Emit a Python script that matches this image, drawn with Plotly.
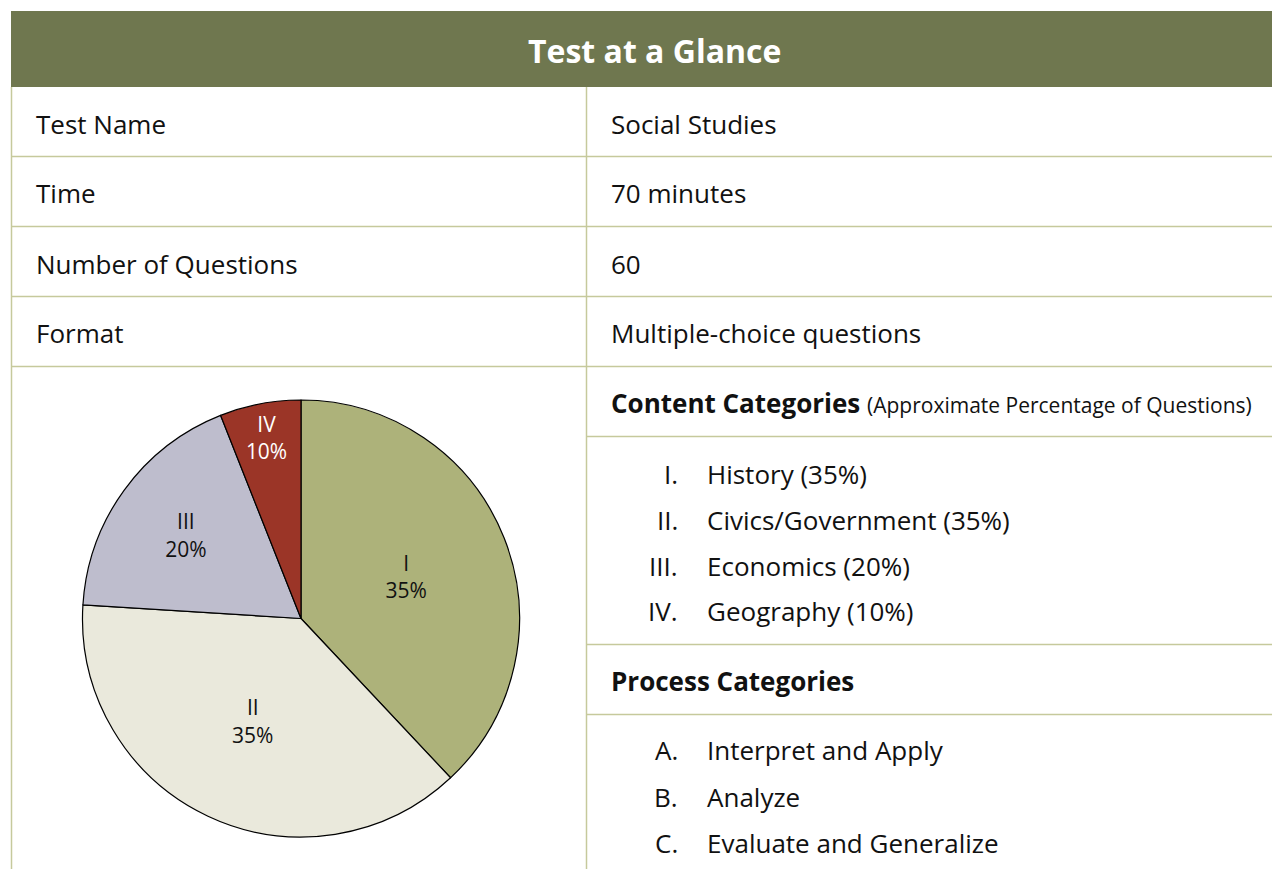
import plotly.graph_objects as go

# ---------------- data ----------------
title = "Test at a Glance"
info_labels = ["Test Name", "Time", "Number of Questions", "Format"]
info_values = ["Social Studies", "70 minutes", "60", "Multiple-choice questions"]

slice_ids = ["I", "II", "III", "IV"]
slice_values = [38, 38, 18, 6]          # drawn slice sizes
slice_labels = ["35%", "35%", "20%", "10%"]
slice_colors = ["#adb27a", "#eae9dc", "#bebdcd", "#9b3527"]
slice_text_colors = ["#111111", "#111111", "#111111", "#ffffff"]

content_numerals = ["I.", "II.", "III.", "IV."]
content_items = ["History (35%)", "Civics/Government (35%)", "Economics (20%)", "Geography (10%)"]
process_letters = ["A.", "B.", "C."]
process_items = ["Interpret and Apply", "Analyze", "Evaluate and Generalize"]

# ---------------- layout constants ----------------
W, H = 1272, 869
FONT = "Open Sans"
LINE = "#c6c99c"
HEAD = "#6f774f"
TXT = "#111111"
BODY = 26

fig = go.Figure()

fig.add_trace(go.Pie(
    values=slice_values,
    text=[f"{i}<br>{p}" for i, p in zip(slice_ids, slice_labels)],
    textinfo="text",
    textposition="inside",
    insidetextorientation="horizontal",
    sort=False,
    direction="clockwise",
    rotation=0,
    marker=dict(colors=slice_colors, line=dict(color="#000000", width=1.2)),
    textfont=dict(family=FONT, size=21, color=slice_text_colors),
    domain=dict(x=[82 / W, 520 / W], y=[1 - 837 / H, 1 - 400 / H]),
    showlegend=False,
    hoverinfo="skip",
))

shapes = []
shapes.append(dict(type="rect", x0=11, x1=W + 20, y0=11, y1=87, fillcolor=HEAD, line=dict(width=0), layer="below"))
shapes.append(dict(type="line", x0=11.5, x1=11.5, y0=87, y1=H + 20, line=dict(color=LINE, width=1.5)))
shapes.append(dict(type="line", x0=586.5, x1=586.5, y0=87, y1=H + 20, line=dict(color=LINE, width=1.5)))
for yy in [156.5, 226.5, 296.5, 366.5]:
    shapes.append(dict(type="line", x0=11, x1=W + 20, y0=yy, y1=yy, line=dict(color=LINE, width=1.5)))
for yy in [436.5, 644.5, 714.5]:
    shapes.append(dict(type="line", x0=586, x1=W + 20, y0=yy, y1=yy, line=dict(color=LINE, width=1.5)))

LX, RX, NX, IX = 34, 609, 680, 705

ann = []
ann.append(dict(x=654, y=50, text=f"<b>{title}</b>", showarrow=False, xanchor="center", yanchor="middle",
                font=dict(family=FONT, size=32, color="#ffffff")))
row_y = [124, 193, 264, 333]
for yy, lab, val in zip(row_y, info_labels, info_values):
    ann.append(dict(x=LX, y=yy, text=lab, showarrow=False, xanchor="left", yanchor="middle",
                    font=dict(family=FONT, size=BODY, color=TXT)))
    ann.append(dict(x=RX, y=yy, text=val, showarrow=False, xanchor="left", yanchor="middle",
                    font=dict(family=FONT, size=BODY, color=TXT)))

ann.append(dict(x=RX, y=403, text="<b>Content Categories</b> <span style='font-size:21px'>(Approximate Percentage of Questions)</span>",
                showarrow=False, xanchor="left", yanchor="middle", font=dict(family=FONT, size=26, color=TXT)))
for yy, num, item in zip([474, 520, 566, 611], content_numerals, content_items):
    ann.append(dict(x=NX, y=yy, text=num, showarrow=False, xanchor="right", yanchor="middle",
                    font=dict(family=FONT, size=BODY, color=TXT)))
    ann.append(dict(x=IX, y=yy, text=item, showarrow=False, xanchor="left", yanchor="middle",
                    font=dict(family=FONT, size=BODY, color=TXT)))

ann.append(dict(x=RX, y=681, text="<b>Process Categories</b>", showarrow=False, xanchor="left", yanchor="middle",
                font=dict(family=FONT, size=26, color=TXT)))
for yy, let, item in zip([750, 797, 843], process_letters, process_items):
    ann.append(dict(x=NX, y=yy, text=let, showarrow=False, xanchor="right", yanchor="middle",
                    font=dict(family=FONT, size=BODY, color=TXT)))
    ann.append(dict(x=IX, y=yy, text=item, showarrow=False, xanchor="left", yanchor="middle",
                    font=dict(family=FONT, size=BODY, color=TXT)))

for a in ann:
    a.update(xref="x", yref="y")
for s in shapes:
    s.update(xref="x", yref="y")

fig.update_layout(
    width=W, height=H,
    margin=dict(l=0, r=0, t=0, b=0),
    paper_bgcolor="#ffffff", plot_bgcolor="rgba(0,0,0,0)",
    xaxis=dict(range=[0, W], visible=False, fixedrange=True, domain=[0, 1]),
    yaxis=dict(range=[H, 0], visible=False, fixedrange=True, domain=[0, 1]),
    shapes=shapes, annotations=ann,
)

fig.write_html(
    "out.html",
    config={"displayModeBar": False},
    post_script="document.body.style.margin='0';document.body.style.overflow='hidden';"
                "document.documentElement.style.overflow='hidden';",
)
